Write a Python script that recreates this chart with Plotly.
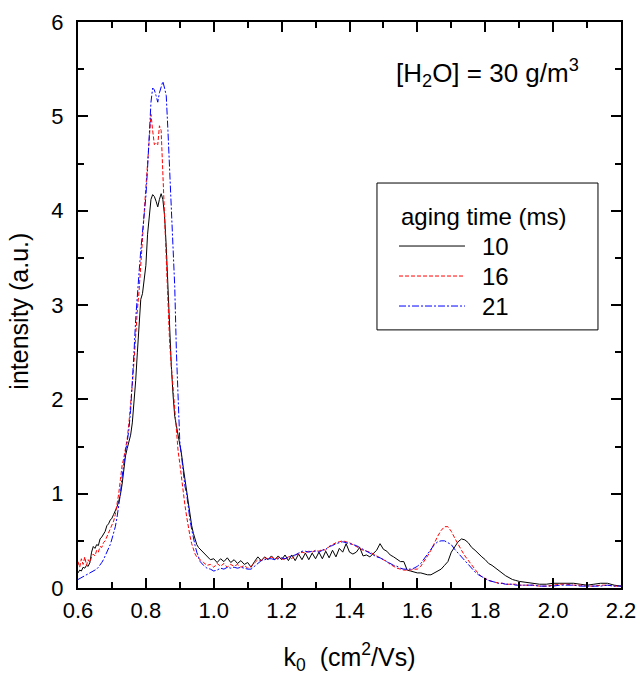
import plotly.graph_objects as go

# ---- data ----
k0 = [
    0.600, 0.605, 0.610, 0.615, 0.620, 0.625, 0.630, 0.635, 0.640, 0.645,
    0.650, 0.655, 0.660, 0.665, 0.670, 0.675, 0.680, 0.685, 0.690, 0.695,
    0.700, 0.705, 0.710, 0.715, 0.720, 0.725, 0.730, 0.735, 0.740, 0.745,
    0.750, 0.755, 0.760, 0.765, 0.770, 0.775, 0.780, 0.785, 0.790, 0.795,
    0.800, 0.805, 0.810, 0.815, 0.820, 0.825, 0.830, 0.835, 0.840, 0.845,
    0.850, 0.855, 0.860, 0.865, 0.870, 0.875, 0.880, 0.885, 0.890, 0.895,
    0.900, 0.905, 0.910, 0.915, 0.920, 0.925, 0.930, 0.935, 0.940, 0.945,
    0.950, 0.955, 0.960,
    0.97, 0.98, 0.99, 1.00, 1.01, 1.02, 1.03, 1.04, 1.05, 1.06,
    1.07, 1.08, 1.09, 1.10, 1.11, 1.12, 1.13, 1.14, 1.15, 1.16,
    1.17, 1.18, 1.19, 1.20, 1.21, 1.22, 1.23, 1.24, 1.25, 1.26,
    1.27, 1.28, 1.29, 1.30, 1.31, 1.32, 1.33, 1.34, 1.35, 1.36,
    1.37, 1.38, 1.39, 1.40,
    1.41, 1.42, 1.43, 1.44, 1.45, 1.46, 1.47, 1.48, 1.49, 1.50,
    1.51, 1.52, 1.53, 1.54, 1.55, 1.56, 1.57, 1.58, 1.59, 1.60,
    1.61, 1.62, 1.63, 1.64, 1.65, 1.66, 1.67, 1.68, 1.69, 1.70,
    1.71, 1.72, 1.73, 1.74, 1.75, 1.76, 1.77, 1.78, 1.79, 1.80,
    1.81, 1.82, 1.83, 1.84, 1.85, 1.86, 1.87, 1.88, 1.89, 1.90,
    1.92, 1.94, 1.96, 1.98, 2.00, 2.02, 2.04, 2.06, 2.08, 2.10,
    2.12, 2.14, 2.16, 2.18, 2.20,
]

int_10ms = [
    0.16, 0.19, 0.18, 0.22, 0.21, 0.24, 0.23, 0.27, 0.38, 0.44,
    0.42, 0.46, 0.45, 0.52, 0.54, 0.57, 0.60, 0.66, 0.68, 0.72,
    0.74, 0.78, 0.82, 0.86, 0.92, 0.99, 1.10, 1.28, 1.40, 1.48,
    1.55, 1.62, 1.75, 1.95, 2.20, 2.50, 2.80, 3.06, 3.12, 3.25,
    3.42, 3.75, 3.98, 4.12, 4.17, 4.15, 4.10, 4.04, 4.12, 4.18,
    4.12, 3.95, 3.62, 3.15, 2.85, 2.35, 2.05, 1.82, 1.72, 1.63,
    1.55, 1.42, 1.28, 1.15, 1.05, 0.90, 0.78, 0.66, 0.58, 0.52,
    0.46, 0.43, 0.41,
    0.37, 0.33, 0.30, 0.31, 0.27, 0.31, 0.28, 0.32, 0.27, 0.30,
    0.26, 0.29, 0.25, 0.27, 0.22, 0.28, 0.33, 0.29, 0.33, 0.30,
    0.34, 0.30, 0.34, 0.30, 0.35, 0.29, 0.35, 0.29, 0.36, 0.30,
    0.37, 0.30, 0.37, 0.31, 0.38, 0.31, 0.39, 0.32, 0.40, 0.33,
    0.42, 0.38, 0.47, 0.38,
    0.36, 0.38, 0.43, 0.34, 0.35, 0.33, 0.36, 0.40, 0.47, 0.41,
    0.39, 0.35, 0.33, 0.30, 0.28, 0.28, 0.19, 0.18, 0.17, 0.16,
    0.16, 0.15, 0.14, 0.14, 0.16, 0.18, 0.20, 0.24, 0.28, 0.38,
    0.43, 0.49, 0.52, 0.51, 0.48, 0.43, 0.40, 0.36, 0.33, 0.30,
    0.26, 0.24, 0.21, 0.18, 0.16, 0.13, 0.11, 0.09, 0.08, 0.07,
    0.06, 0.05, 0.04, 0.04, 0.05, 0.05, 0.05, 0.05, 0.04, 0.03,
    0.04, 0.05, 0.05, 0.03, 0.02,
]

int_16ms = [
    0.28, 0.22, 0.31, 0.25, 0.33, 0.24, 0.30, 0.27, 0.33, 0.36,
    0.34, 0.40, 0.38, 0.44, 0.43, 0.48, 0.50, 0.54, 0.58, 0.62,
    0.66, 0.71, 0.78, 0.88, 1.00, 1.15, 1.30, 1.38, 1.48, 1.58,
    1.75, 1.92, 2.15, 2.40, 2.70, 2.95, 3.15, 3.45, 3.70, 4.00,
    4.25, 4.50, 4.80, 5.02, 4.85, 4.70, 4.72, 4.70, 4.90, 4.85,
    4.40, 3.90, 3.60, 3.10, 2.60, 2.35, 2.10, 1.95, 1.62, 1.45,
    1.32, 1.15, 1.02, 0.88, 0.76, 0.64, 0.55, 0.47, 0.40, 0.36,
    0.33, 0.31, 0.30,
    0.27, 0.24, 0.25, 0.22, 0.26, 0.23, 0.26, 0.22, 0.25, 0.23,
    0.25, 0.22, 0.24, 0.21, 0.23, 0.27, 0.30, 0.29, 0.32, 0.31,
    0.33, 0.31, 0.32, 0.31, 0.30, 0.33, 0.31, 0.35, 0.36, 0.38,
    0.37, 0.39, 0.38, 0.40, 0.39, 0.41, 0.40, 0.44, 0.46, 0.48,
    0.49, 0.50, 0.49, 0.48,
    0.46, 0.44, 0.42, 0.40, 0.39, 0.38, 0.36, 0.34, 0.32, 0.30,
    0.28, 0.25, 0.23, 0.21, 0.20, 0.19, 0.19, 0.19, 0.20, 0.20,
    0.23, 0.28, 0.34, 0.40, 0.48, 0.55, 0.61, 0.65, 0.65, 0.60,
    0.53, 0.46, 0.40, 0.34, 0.29, 0.24, 0.19, 0.15, 0.12, 0.10,
    0.08, 0.07, 0.06, 0.05, 0.05, 0.04, 0.04, 0.04, 0.04, 0.03,
    0.03, 0.03, 0.02, 0.02, 0.03, 0.04, 0.04, 0.03, 0.03, 0.02,
    0.02, 0.03, 0.03, 0.02, 0.02,
]

int_21ms = [
    0.09, 0.10, 0.11, 0.12, 0.13, 0.14, 0.15, 0.16, 0.17, 0.18,
    0.19, 0.20, 0.22, 0.24, 0.27, 0.30, 0.34, 0.38, 0.42, 0.46,
    0.52, 0.58, 0.65, 0.75, 0.86, 1.00, 1.18, 1.35, 1.45, 1.55,
    1.68, 1.88, 2.15, 2.50, 2.85, 3.15, 3.35, 3.58, 3.78, 3.98,
    4.15, 4.45, 4.85, 5.15, 5.30, 5.28, 5.22, 5.15, 5.25, 5.32,
    5.37, 5.30, 5.22, 4.85, 4.45, 4.15, 3.60, 3.20, 2.50, 1.95,
    1.55, 1.40, 1.20, 1.08, 1.00, 0.85, 0.72, 0.62, 0.52, 0.45,
    0.38, 0.32, 0.28,
    0.24, 0.21, 0.20, 0.18, 0.19, 0.21, 0.20, 0.22, 0.21, 0.22,
    0.21, 0.22, 0.21, 0.20, 0.20, 0.23, 0.27, 0.29, 0.30, 0.31,
    0.31, 0.30, 0.31, 0.32, 0.31, 0.33, 0.34, 0.35, 0.37, 0.39,
    0.39, 0.38, 0.39, 0.39, 0.38, 0.40, 0.41, 0.44, 0.45, 0.47,
    0.48, 0.49, 0.48, 0.47,
    0.46, 0.45, 0.43, 0.41, 0.39, 0.37, 0.35, 0.33, 0.32, 0.30,
    0.28, 0.26, 0.24, 0.23, 0.21, 0.20, 0.20, 0.20, 0.21, 0.23,
    0.26, 0.31, 0.37, 0.42, 0.46, 0.49, 0.50, 0.50, 0.48, 0.46,
    0.41, 0.37, 0.33, 0.28, 0.24, 0.21, 0.17, 0.14, 0.12, 0.10,
    0.08, 0.07, 0.06, 0.05, 0.05, 0.04, 0.04, 0.04, 0.03, 0.03,
    0.03, 0.03, 0.02, 0.02, 0.02, 0.03, 0.03, 0.03, 0.02, 0.02,
    0.02, 0.02, 0.03, 0.02, 0.02,
]

series_names = ["10", "16", "21"]
series_values = [int_10ms, int_16ms, int_21ms]
series_colors = ["#000000", "#ff0000", "#0000ff"]
series_dash = ["solid", "4px,2px", "7px,2px,2px,2px"]

x_ticks = [0.6, 0.8, 1.0, 1.2, 1.4, 1.6, 1.8, 2.0, 2.2]
y_ticks = [0, 1, 2, 3, 4, 5, 6]

legend_title = "aging time (ms)"
annotation_text = "[H<sub>2</sub>O] = 30 g/m<sup>3</sup>"
y_title = "intensity (a.u.)"

FONT = "Arial, Liberation Sans, sans-serif"

fig = go.Figure()
for name, vals, col, dash in zip(series_names, series_values, series_colors, series_dash):
    fig.add_trace(go.Scatter(
        x=k0, y=vals, mode="lines", name=name, showlegend=False,
        line=dict(color=col, width=1, dash=dash),
    ))

axis_common = dict(
    showline=True, linewidth=2, linecolor="black", mirror="ticks",
    ticks="inside", ticklen=10, tickwidth=2, tickcolor="black",
    showgrid=False, zeroline=False,
    tickfont=dict(family=FONT, size=22, color="black"),
)

fig.update_xaxes(
    range=[0.6, 2.2], tickvals=x_ticks, tickformat=".1f",
    minor=dict(ticks="inside", ticklen=6, tickwidth=2, dtick=0.1, tick0=0.6, tickcolor="black"),
    title=dict(text="k<sub>0</sub>  (cm<sup>2</sup>/Vs)", font=dict(family=FONT, size=25, color="black"), standoff=26),
    ticklabelstandoff=2,
    **axis_common,
)
fig.update_yaxes(
    range=[0, 6], tickvals=y_ticks,
    minor=dict(ticks="inside", ticklen=6, tickwidth=2, dtick=0.5, tick0=0, tickcolor="black"),
    ticklabelstandoff=8,
    **axis_common,
)

# y-axis title placed explicitly (further left than Plotly's minimum standoff allows)
fig.add_annotation(
    xref="paper", yref="paper", x=-0.1087, y=0.49, xanchor="center", yanchor="middle",
    text=y_title, textangle=-90, showarrow=False,
    font=dict(family=FONT, size=25, color="black"),
)

# concentration note
fig.add_annotation(
    xref="paper", yref="paper", x=0.754, y=0.910, xanchor="center", yanchor="middle",
    text=annotation_text, showarrow=False,
    font=dict(family=FONT, size=26, color="black"),
)

# legend (box, title, sample lines, labels) in paper coordinates
leg_x0, leg_x1, leg_top, leg_bot = 0.5506, 0.9576, 0.7155, 0.4560
fig.add_shape(type="rect", xref="paper", yref="paper",
              x0=leg_x0, x1=leg_x1, y0=leg_bot, y1=leg_top,
              line=dict(color="black", width=1), fillcolor="white", layer="above")
fig.add_annotation(xref="paper", yref="paper", x=0.5912, y=0.6572,
                   xanchor="left", yanchor="middle", text=legend_title, showarrow=False,
                   font=dict(family=FONT, size=24, color="black"))
row_y = [0.6042, 0.5512, 0.4982]
for name, col, dash, ry in zip(series_names, series_colors, series_dash, row_y):
    fig.add_shape(type="line", xref="paper", yref="paper",
                  x0=0.5912, x1=0.7127, y0=ry, y1=ry,
                  line=dict(color=col, width=1, dash=dash), layer="above")
    fig.add_annotation(xref="paper", yref="paper", x=0.7403, y=ry,
                       xanchor="left", yanchor="middle", text=name, showarrow=False,
                       font=dict(family=FONT, size=24, color="black"))

fig.update_layout(
    width=639, height=678,
    margin=dict(l=78, r=18, t=22, b=90, autoexpand=False),
    paper_bgcolor="white", plot_bgcolor="white",
    font=dict(family=FONT, color="black"),
    showlegend=False,
)

fig.write_html("out.html", config={"displayModeBar": False},
               post_script="document.body.style.margin='0';")
